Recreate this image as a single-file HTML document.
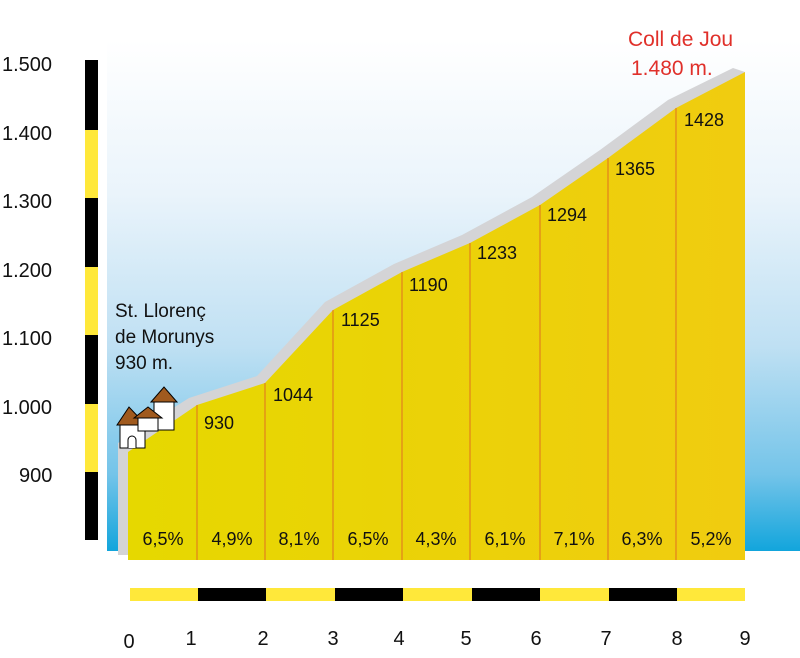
<!DOCTYPE html>
<html><head><style>
html,body{margin:0;padding:0;background:#fff;}
svg{display:block;}
text{font-family:"Liberation Sans","DejaVu Sans",sans-serif;}
</style></head><body>
<svg width="800" height="658" viewBox="0 0 800 658">
<defs>
<linearGradient id="sky" x1="0" y1="0" x2="0" y2="1">
<stop offset="0" stop-color="#ffffff"/>
<stop offset="0.3" stop-color="#eaf4fb"/>
<stop offset="0.6" stop-color="#bfe0f3"/>
<stop offset="0.85" stop-color="#74c4e9"/>
<stop offset="1" stop-color="#12a5dc"/>
</linearGradient>
<linearGradient id="yel" x1="0" y1="0" x2="1" y2="0">
<stop offset="0" stop-color="#e6d800"/>
<stop offset="1" stop-color="#f0cc10"/>
</linearGradient>
</defs>
<rect x="107" y="40" width="693" height="511" fill="url(#sky)"/>
<rect x="85" y="60" width="13" height="70" fill="#000"/>
<rect x="85" y="130" width="13" height="68" fill="#ffe83a"/>
<rect x="85" y="198" width="13" height="69" fill="#000"/>
<rect x="85" y="267" width="13" height="68" fill="#ffe83a"/>
<rect x="85" y="335" width="13" height="69" fill="#000"/>
<rect x="85" y="404" width="13" height="68" fill="#ffe83a"/>
<rect x="85" y="472" width="13" height="68" fill="#000"/>
<g font-size="20" fill="#111">
<text x="2" y="71">1.500</text>
<text x="2" y="140">1.400</text>
<text x="2" y="208">1.300</text>
<text x="2" y="277">1.200</text>
<text x="2" y="345">1.100</text>
<text x="2" y="414">1.000</text>
<text x="19" y="482">900</text>
</g>
<polygon points="118,555 118,443 189,398 257,376 325,302 394,264 462,235 532,197 600,150 668,100 733,68 745,72 745,555" fill="#d4d4d6"/>
<polygon points="128,560 128,452 197,405 265,383 333,310 402,272 470,243 540,205 608,158 676,108 745,72 745,560" fill="url(#yel)"/>
<g stroke="#e07020" stroke-width="1">
<line x1="197" y1="405" x2="197" y2="560"/>
<line x1="265" y1="383" x2="265" y2="560"/>
<line x1="333" y1="310" x2="333" y2="560"/>
<line x1="402" y1="272" x2="402" y2="560"/>
<line x1="470" y1="243" x2="470" y2="560"/>
<line x1="540" y1="205" x2="540" y2="560"/>
<line x1="608" y1="158" x2="608" y2="560"/>
<line x1="676" y1="108" x2="676" y2="560"/>
</g>
<g font-size="18" fill="#111">
<text x="204" y="429">930</text>
<text x="273" y="401">1044</text>
<text x="341" y="326">1125</text>
<text x="409" y="291">1190</text>
<text x="477" y="259">1233</text>
<text x="547" y="221">1294</text>
<text x="615" y="175">1365</text>
<text x="684" y="126">1428</text>
</g>
<g font-size="18" fill="#111" text-anchor="middle">
<text x="163" y="545">6,5%</text>
<text x="232" y="545">4,9%</text>
<text x="299" y="545">8,1%</text>
<text x="368" y="545">6,5%</text>
<text x="436" y="545">4,3%</text>
<text x="505" y="545">6,1%</text>
<text x="574" y="545">7,1%</text>
<text x="642" y="545">6,3%</text>
<text x="711" y="545">5,2%</text>
</g>
<g font-size="19" fill="#111">
<text x="115" y="317">St. Llorenç</text>
<text x="115" y="343">de Morunys</text>
<text x="115" y="369">930 m.</text>
</g>
<g font-size="21" fill="#e0302a">
<text x="628" y="46">Coll de Jou</text>
<text x="631" y="75">1.480 m.</text>
</g>
<g stroke="#000" stroke-width="1">
<rect x="154" y="402" width="20" height="28" fill="#fff"/>
<polygon points="151,402 164,387 177,402" fill="#a05a1e"/>
<rect x="120" y="422" width="25" height="26" fill="#fff"/>
<polygon points="117,425 129,407 146,425" fill="#a05a1e"/>
<rect x="138" y="417" width="20" height="14" fill="#fff"/>
<polygon points="134,418 148,407 162,418" fill="#a05a1e"/>
<path d="M128,448 v-8 a4,4 0 0 1 8,0 v8" fill="#fff"/>
</g>
<rect x="130" y="588" width="68" height="13" fill="#ffe83a"/>
<rect x="198" y="588" width="68" height="13" fill="#000"/>
<rect x="266" y="588" width="69" height="13" fill="#ffe83a"/>
<rect x="335" y="588" width="68" height="13" fill="#000"/>
<rect x="403" y="588" width="69" height="13" fill="#ffe83a"/>
<rect x="472" y="588" width="68" height="13" fill="#000"/>
<rect x="540" y="588" width="69" height="13" fill="#ffe83a"/>
<rect x="609" y="588" width="68" height="13" fill="#000"/>
<rect x="677" y="588" width="68" height="13" fill="#ffe83a"/>
<g font-size="20" fill="#111" text-anchor="middle">
<text x="129" y="648">0</text>
<text x="191" y="645">1</text>
<text x="263" y="645">2</text>
<text x="333" y="645">3</text>
<text x="399" y="645">4</text>
<text x="466" y="645">5</text>
<text x="536" y="645">6</text>
<text x="606" y="645">7</text>
<text x="677" y="645">8</text>
<text x="745" y="645">9</text>
</g>
</svg>
</body></html>
